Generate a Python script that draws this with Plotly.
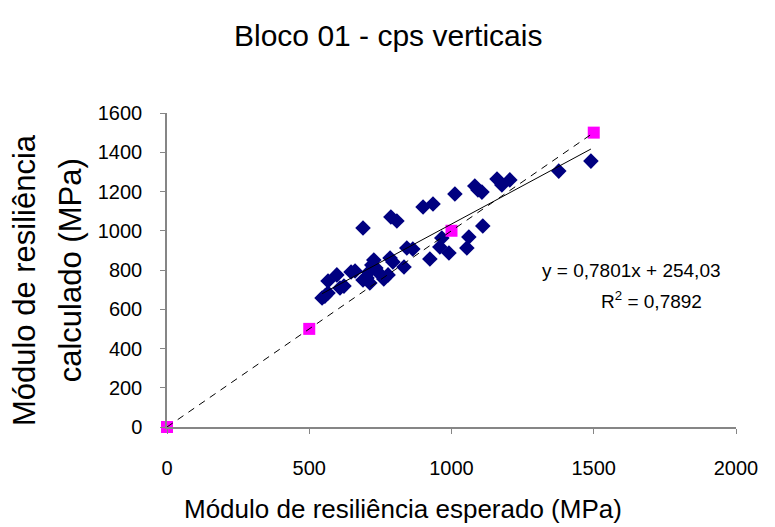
import plotly.graph_objects as go

# Measured (calculated) vs expected resilient modulus, MPa
modulo_esperado = [545, 555, 566, 566, 597, 608, 622, 647, 661, 689,
                   689, 703, 713, 720, 727, 734, 748, 762, 777, 784,
                   794, 787, 808, 833, 843, 864, 900, 935, 924, 966,
                   959, 991, 1012, 1061, 1054, 1082, 1107, 1110, 1160, 1177,
                   1205, 1377, 1490, 1093, 710]
modulo_calculado = [657, 667, 683, 744, 775, 708, 718, 790, 795, 1014,
                    749, 759, 734, 825, 851, 810, 780, 754, 775, 861,
                    841, 1070, 1050, 815, 912, 907, 1121, 1136, 856, 963,
                    917, 887, 1187, 968, 912, 1228, 1197, 1024, 1264, 1233,
                    1259, 1304, 1355, 1208, 790]

# Reference points on the 1:1 line
ref_x = [0, 500, 1000, 1500]
ref_y = [0, 500, 1000, 1500]

# Linear trend: y = 0,7801x + 254,03
slope = 0.7801
intercept = 254.03
trend_x = [min(modulo_esperado), max(modulo_esperado)]
trend_y = [slope * v + intercept for v in trend_x]

x_ticks = [0, 500, 1000, 1500, 2000]
y_ticks = [0, 200, 400, 600, 800, 1000, 1200, 1400, 1600]

FONT = "Liberation Sans, Arial, sans-serif"
AXIS_GRAY = "#868686"

fig = go.Figure()

fig.add_trace(go.Scatter(
    x=modulo_esperado, y=modulo_calculado, mode="markers",
    marker=dict(symbol="diamond", size=12, color="#000080",
                line=dict(width=0)),
    showlegend=False, cliponaxis=False,
))
fig.add_trace(go.Scatter(
    x=ref_x, y=ref_y, mode="markers",
    marker=dict(symbol="square", size=12, color="#FF00FF",
                line=dict(width=0)),
    showlegend=False, cliponaxis=False,
))
fig.add_trace(go.Scatter(
    x=[ref_x[0], ref_x[-1]], y=[ref_y[0], ref_y[-1]], mode="lines",
    line=dict(color="black", width=1, dash="7px,6px"),
    showlegend=False, cliponaxis=False,
))
fig.add_trace(go.Scatter(
    x=trend_x, y=trend_y, mode="lines",
    line=dict(color="black", width=1),
    showlegend=False,
))

axis_common = dict(
    showgrid=False, zeroline=False, showline=True, linecolor=AXIS_GRAY,
    linewidth=1.5, ticks="outside", ticklen=5, tickcolor=AXIS_GRAY,
    tickwidth=1, tickfont=dict(family=FONT, size=20, color="black"),
)

fig.update_xaxes(range=[0, 2000], tickvals=x_ticks, ticklabelstandoff=17,
                 **axis_common)
fig.update_yaxes(range=[0, 1600], tickvals=y_ticks, ticklabelstandoff=14,
                 **axis_common)

annotations = [
    dict(text="Bloco 01 - cps verticais", x=0.3884, y=1.248,
         font=dict(size=30)),
    dict(text="Módulo de resiliência esperado (MPa)", x=0.415, y=-0.262,
         font=dict(size=26)),
    dict(text="Módulo de resiliência", x=-0.250, y=0.467,
         textangle=-90, font=dict(size=31)),
    dict(text="calculado (MPa)", x=-0.170, y=0.500,
         textangle=-90, font=dict(size=31)),
    dict(text="y = 0,7801x + 254,03", x=0.817, y=0.50,
         font=dict(size=19)),
    dict(text="R<sup>2</sup> = 0,7892", x=0.851, y=0.404,
         font=dict(size=19)),
]
for a in annotations:
    a.update(xref="paper", yref="paper", showarrow=False,
             xanchor="center", yanchor="middle")
    a["font"].update(family=FONT, color="black")

fig.update_layout(
    width=775, height=527,
    margin=dict(l=167, r=39, t=113, b=100),
    paper_bgcolor="white", plot_bgcolor="white",
    annotations=annotations,
)

fig.write_html("out.html")
